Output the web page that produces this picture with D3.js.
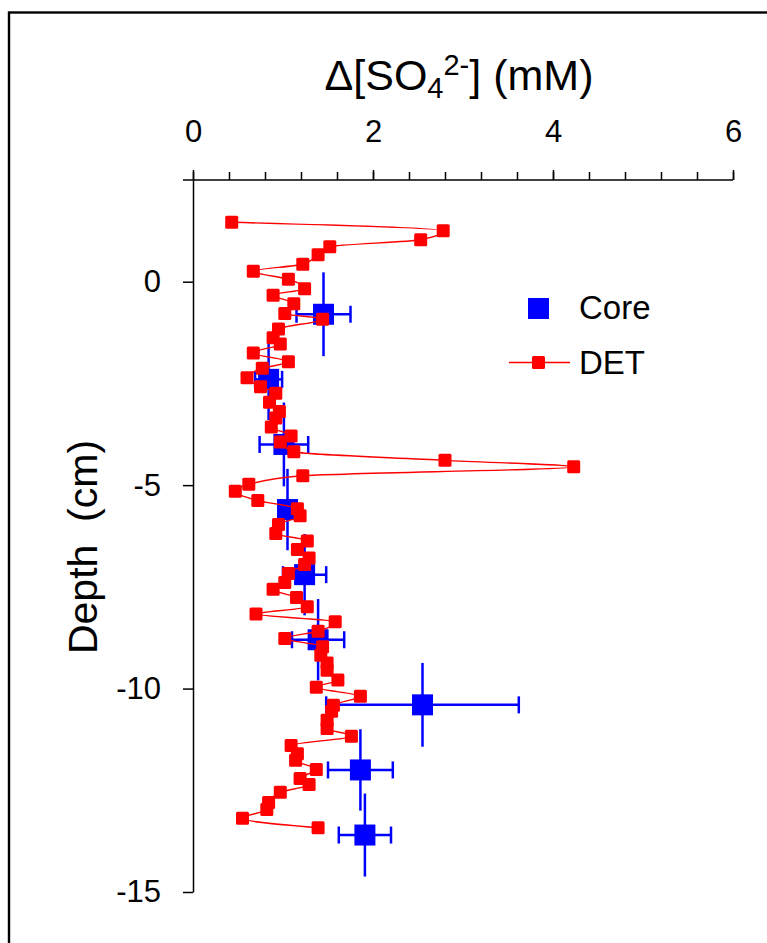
<!DOCTYPE html>
<html>
<head>
<meta charset="utf-8">
<script src="https://cdn.jsdelivr.net/npm/d3@7"></script>
<style>
  body { margin: 0; background: #fff; }
  svg { display: block; }
  text { font-family: "Liberation Sans", Arial, sans-serif; fill: #000; }
</style>
</head>
<body>
<div id="chart"></div>
<script>

// core samples: depth (cm), sulfate change (mM) and their error bars
var coreDepth = [-0.8, -2.4, -4.0, -5.6, -7.2, -8.8, -10.4, -12.0, -13.6];
var coreConc  = [1.45, 0.84, 1.01, 1.05, 1.24, 1.39, 2.55, 1.86, 1.91];
var coreErrX  = [0.30, 0.15, 0.27, 0.08, 0.24, 0.29, 1.07, 0.36, 0.29];
var coreErrY  = [1.03, 1.0, 1.03, 1.0, 1.0, 1.0, 1.03, 1.0, 1.02];

// DET profile: depth (cm) and sulfate change (mM)
var detDepth = [1.46, 1.25, 1.03, 0.86, 0.66, 0.43, 0.26, 0.06, -0.17, -0.33,
                -0.54, -0.78, -0.92, -1.16, -1.38, -1.53, -1.75, -1.97, -2.13, -2.36,
                -2.58, -2.74, -2.96, -3.19, -3.35, -3.57, -3.79, -3.94, -4.18, -4.39,
                -4.55, -4.77, -4.98, -5.15, -5.38, -5.58, -5.75, -5.97, -6.19, -6.37,
                -6.58, -6.79, -6.95, -7.17, -7.39, -7.56, -7.76, -7.99, -8.17, -8.36,
                -8.59, -8.77, -8.97, -9.18, -9.37, -9.55, -9.79, -9.97, -10.19, -10.41,
                -10.56, -10.78, -10.98, -11.17, -11.40, -11.60, -11.76, -11.99, -12.21, -12.36,
                -12.55, -12.80, -12.97, -13.19, -13.42];
var detConc  = [0.43, 2.78, 2.53, 1.52, 1.39, 1.22, 0.67, 1.06, 1.24, 0.89,
                1.12, 1.02, 1.44, 0.95, 0.89, 0.97, 0.67, 1.06, 0.77, 0.60,
                0.75, 0.92, 0.85, 0.96, 0.92, 0.87, 1.09, 0.97, 1.12, 2.80,
                4.23, 1.22, 0.62, 0.47, 0.72, 1.16, 1.19, 0.95, 0.92, 1.27,
                1.16, 1.29, 1.24, 1.06, 1.02, 0.89, 1.15, 1.27, 0.70, 1.58,
                1.39, 1.02, 1.44, 1.42, 1.49, 1.49, 1.61, 1.37, 1.86, 1.56,
                1.54, 1.49, 1.49, 1.76, 1.09, 1.16, 1.14, 1.37, 1.19, 1.29,
                0.97, 0.84, 0.82, 0.55, 1.39];

// tick values
var xMajorTicks = [0, 2, 4, 6];
var xMinorTicks = [0, 0.4, 0.8, 1.2, 1.6, 2, 2.4, 2.8, 3.2, 3.6, 4, 4.4, 4.8, 5.2, 5.6, 6];
var yTicks = [0, -5, -10, -15];

var width = 767, height = 943;

var svg = d3.select("#chart")
  .append("svg")
  .attr("width", width)
  .attr("height", height);

// outer frame, runs off the right and bottom of the picture
svg.append("rect")
  .attr("x", 9)
  .attr("y", 12.5)
  .attr("width", 900)
  .attr("height", 1100)
  .attr("fill", "none")
  .attr("stroke", "#000")
  .attr("stroke-width", 2.4);

// scales
var x = d3.scaleLinear().domain([0, 6]).range([193, 733]);
var y = d3.scaleLinear().domain([2.5, -15]).range([180, 892]);

// x axis on top: minor ticks first, then labelled major ticks
svg.append("g")
  .attr("transform", "translate(0," + y(2.5) + ")")
  .call(d3.axisTop(x).tickValues(xMinorTicks).tickSize(8).tickSizeOuter(0).tickFormat(""))
  .call(function(g) { g.select(".domain").remove(); });

var xAxis = svg.append("g")
  .attr("transform", "translate(0," + y(2.5) + ")")
  .call(d3.axisTop(x).tickValues(xMajorTicks).tickSize(10).tickSizeOuter(0).tickPadding(28)
    .tickFormat(function(d) { return String(d); }));
xAxis.select(".domain").remove();
xAxis.selectAll("text").attr("font-size", 31).attr("font-family", null);

// x axis line, sticking out a little left of the y axis
svg.append("line")
  .attr("x1", x(0) - 10)
  .attr("x2", x(6))
  .attr("y1", y(2.5))
  .attr("y2", y(2.5))
  .attr("stroke", "#000")
  .attr("stroke-width", 1.5);

// y axis
var yAxis = svg.append("g")
  .attr("transform", "translate(" + x(0) + ",0)")
  .call(d3.axisLeft(y).tickValues(yTicks).tickSize(10).tickSizeOuter(0).tickPadding(22)
    .tickFormat(function(d) { return String(d); }));
yAxis.select(".domain").attr("stroke-width", 1.5);
yAxis.selectAll("text").attr("font-size", 31).attr("font-family", null);

svg.selectAll(".tick line").attr("stroke-width", 1.5);

// axis titles
var title = svg.append("text")
  .attr("x", 459)
  .attr("y", 90)
  .attr("text-anchor", "middle")
  .attr("font-size", 43);
title.append("tspan").text("\u0394[SO");
title.append("tspan").attr("font-size", 29).attr("dy", 8).text("4");
title.append("tspan").attr("font-size", 29).attr("dy", -23).text("2-");
title.append("tspan").attr("dy", 15).text("] (mM)");

svg.append("text")
  .attr("transform", "translate(97,547) rotate(-90)")
  .attr("text-anchor", "middle")
  .attr("font-size", 41)
  .style("white-space", "pre")
  .text("Depth  (cm)");

// core error bars
var core = coreDepth.map(function(d, i) {
  return { depth: d, conc: coreConc[i], ex: coreErrX[i], ey: coreErrY[i] };
});
var blue = "#0000ff";

var bars = svg.append("g").attr("stroke", blue).attr("stroke-width", 2.5);
bars.selectAll(".vbar")
  .data(core)
  .enter()
  .append("line")
  .attr("x1", function(d) { return x(d.conc); })
  .attr("x2", function(d) { return x(d.conc); })
  .attr("y1", function(d) { return y(d.depth + d.ey); })
  .attr("y2", function(d) { return y(d.depth - d.ey); });
bars.selectAll(".hbar")
  .data(core)
  .enter()
  .append("line")
  .attr("x1", function(d) { return x(d.conc - d.ex); })
  .attr("x2", function(d) { return x(d.conc + d.ex); })
  .attr("y1", function(d) { return y(d.depth); })
  .attr("y2", function(d) { return y(d.depth); });
[-1, 1].forEach(function(side) {
  bars.selectAll(".cap" + side)
    .data(core)
    .enter()
    .append("line")
    .attr("x1", function(d) { return x(d.conc + side * d.ex); })
    .attr("x2", function(d) { return x(d.conc + side * d.ex); })
    .attr("y1", function(d) { return y(d.depth) - 8.5; })
    .attr("y2", function(d) { return y(d.depth) + 8.5; });
});

svg.append("g")
  .selectAll("rect")
  .data(core)
  .enter()
  .append("rect")
  .attr("x", function(d) { return x(d.conc) - 10.5; })
  .attr("y", function(d) { return y(d.depth) - 10.5; })
  .attr("width", 21)
  .attr("height", 21)
  .attr("fill", blue);

// DET profile, smoothed along depth
var det = detDepth.map(function(d, i) { return { depth: d, conc: detConc[i] }; });
var red = "#ff0000";

var line = d3.line()
  .x(function(d) { return x(d.conc); })
  .y(function(d) { return y(d.depth); })
  .curve(d3.curveMonotoneY);

svg.append("path")
  .datum(det)
  .attr("d", line)
  .attr("fill", "none")
  .attr("stroke", red)
  .attr("stroke-width", 1.4);

svg.append("g")
  .selectAll("rect")
  .data(det)
  .enter()
  .append("rect")
  .attr("x", function(d) { return x(d.conc) - 6.5; })
  .attr("y", function(d) { return y(d.depth) - 6.5; })
  .attr("width", 13)
  .attr("height", 13)
  .attr("rx", 1.5)
  .attr("fill", red);

// legend
var legend = svg.append("g").attr("transform", "translate(509,0)");
legend.append("rect")
  .attr("x", 19).attr("y", 298).attr("width", 21).attr("height", 21)
  .attr("fill", blue);
legend.append("text")
  .attr("x", 70).attr("y", 319).attr("font-size", 33)
  .text("Core");
legend.append("line")
  .attr("x1", 0).attr("x2", 61).attr("y1", 362.5).attr("y2", 362.5)
  .attr("stroke", red).attr("stroke-width", 1.5);
legend.append("rect")
  .attr("x", 23).attr("y", 356).attr("width", 13).attr("height", 13)
  .attr("rx", 1.5).attr("fill", red);
legend.append("text")
  .attr("x", 70).attr("y", 374).attr("font-size", 33)
  .text("DET");

</script>
</body>
</html>
